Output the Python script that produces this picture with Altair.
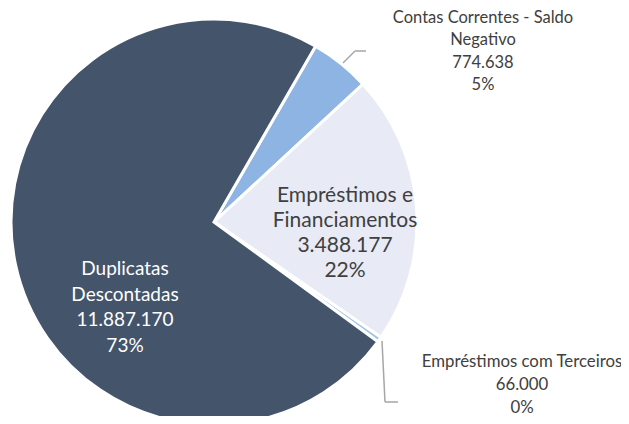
import math
import altair as alt
import pandas as pd

categories = ["Contas Correntes - Saldo Negativo", "Empréstimos e Financiamentos",
              "Empréstimos com Terceiros", "Duplicatas Descontadas"]
values = [774638, 3488177, 66000, 11887170]
label_lines = [["Contas Correntes - Saldo", "Negativo"],
               ["Empréstimos e", "Financiamentos"],
               ["Empréstimos com Terceiros"],
               ["Duplicatas", "Descontadas"]]
colors = ["#8EB4E3", "#E8EBF6", "#9DC3E6", "#44546A"]

total = sum(values)
rows = []
for i, (c, v, ll) in enumerate(zip(categories, values, label_lines)):
    num = f"{v:,}".replace(",", ".")
    pct = f"{round(v / total * 100)}%"
    rows.append({"cat": c, "value": v, "order": i, "label": ll + [num, pct]})
df = pd.DataFrame(rows)

FONT = "Lato"
CX, CY, R = 206, 214, 203
start = 0.524

base = alt.Chart(df)

pie = base.mark_arc(radius=R, stroke="white", strokeWidth=3).encode(
    x=alt.value(CX), y=alt.value(CY),
    theta=alt.Theta("value:Q", stack=True,
                    scale=alt.Scale(range=[start, start + 2 * math.pi])),
    order=alt.Order("order:Q"),
    color=alt.Color("cat:N", scale=alt.Scale(domain=categories, range=colors), legend=None),
)

def label(cat, x, y, size, lh, color):
    return base.transform_filter(alt.datum.cat == cat).mark_text(
        font=FONT, fontSize=size, lineHeight=lh, align="center", baseline="middle", color=color
    ).encode(x=alt.value(x), y=alt.value(y), text="label")

labels = [
    label(categories[0], 475, 9.5, 16.5, 22.5, "#404040"),
    label(categories[1], 337, 188, 21, 25, "#404040"),
    label(categories[2], 514, 354, 16.8, 23, "#404040"),
    label(categories[3], 117, 261, 19, 25.5, "white"),
]

def seg(x1, y1, x2, y2):
    return base.transform_filter(alt.datum.order == 0).mark_rule(
        color="#A6A6A6", strokeWidth=1.5
    ).encode(x=alt.value(x1), y=alt.value(y1), x2=alt.value(x2), y2=alt.value(y2))

leaders = [
    seg(335, 55, 347, 43), seg(347, 43, 358, 43),
    seg(374, 333, 377, 394), seg(377, 394, 390, 394),
]

chart = alt.layer(pie, *leaders, *labels).properties(
    width=613, height=408, autosize=alt.AutoSizeParams(type="none"), padding=0,
    background="white"
).configure_view(stroke=None)

chart.save("out.html", embed_options={"renderer": "svg", "actions": False})
